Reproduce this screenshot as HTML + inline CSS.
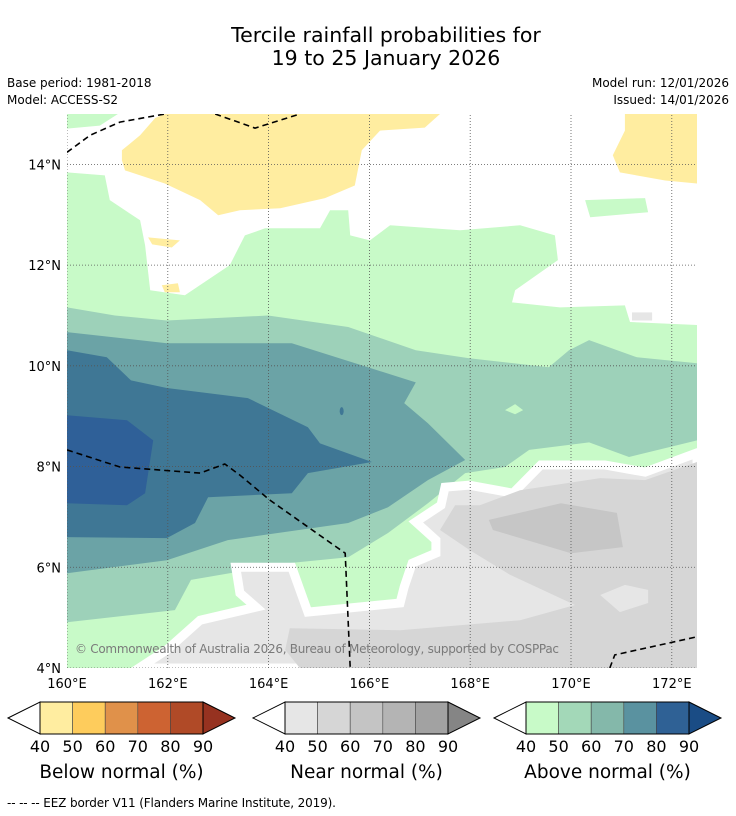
<!DOCTYPE html>
<html><head><meta charset="utf-8"><style>
body{margin:0;background:#fff;width:736px;height:816px;overflow:hidden;font-family:"DejaVu Sans","Liberation Sans",sans-serif}
svg{display:block}
</style></head><body>
<svg id="chart" width="736" height="816" viewBox="0 0 736 816" font-family="DejaVu Sans, Liberation Sans, sans-serif">
<text x="386" y="42" text-anchor="middle" font-size="20.5">Tercile rainfall probabilities for</text>
<text x="386" y="65" text-anchor="middle" font-size="20.5">19 to 25 January 2026</text>
<text x="7" y="87" font-size="12">Base period: 1981-2018</text>
<text x="7" y="104" font-size="12">Model: ACCESS-S2</text>
<text x="729" y="87" font-size="12" text-anchor="end">Model run: 12/01/2026</text>
<text x="729" y="104" font-size="12" text-anchor="end">Issued: 14/01/2026</text>
<defs><clipPath id="mapclip"><rect x="67" y="114" width="630" height="554"/></clipPath></defs>
<g id="map" clip-path="url(#mapclip)"></g>
<g id="axes"></g>
<g id="legend"></g>
<text x="7" y="807" font-size="12" textLength="329">--  --  -- EEZ border V11 (Flanders Marine Institute, 2019).</text>
</svg>
<script>
const lonTicks=[160,162,164,166,168,170,172];
const latTicks=[4,6,8,10,12,14];
const lonLabels=["160°E","162°E","164°E","166°E","168°E","170°E","172°E"];
const latLabels=["4°N","6°N","8°N","10°N","12°N","14°N"];
const whiteTop=[[160,14.71],[160.65,14.77],[161.01,15],[172.5,15],[172.5,10.81],[171.17,10.87],[171.07,11.2],[169.78,11.16],[168.83,11.26],[168.89,11.5],[169.74,12.1],[169.68,12.59],[168.99,12.79],[167.8,12.69],[166.41,12.79],[166.01,12.49],[165.62,12.59],[165.58,13.09],[165.22,13.09],[165.02,12.73],[163.93,12.73],[163.53,12.59],[163.23,12.0],[162.34,11.4],[161.65,11.5],[161.55,12.39],[161.45,12.89],[160.85,13.29],[160.75,13.78],[160,13.84]];
const greenPatch=[[170.28,13.29],[171.47,13.33],[171.53,13.05],[170.38,12.95]];
const grayPatchTop=[[171.21,11.06],[171.61,11.06],[171.61,10.9],[171.21,10.9]];
const yellowBig=[[161.09,14.28],[161.45,14.58],[161.75,14.92],[161.94,15],[167.4,15],[167.1,14.73],[166.21,14.67],[165.85,14.28],[165.71,13.58],[165.12,13.33],[164.23,13.13],[163.43,13.09],[163.0,12.99],[162.64,13.29],[161.94,13.62],[161.15,13.88],[161.09,14.08]];
const yellowRight=[[171.07,15],[172.5,15],[172.5,13.62],[171.87,13.68],[170.97,13.84],[170.83,14.18],[171.07,14.67]];
const yellowSmall1=[[161.61,12.55],[162.24,12.49],[162.08,12.35],[161.69,12.41]];
const yellowSmall2=[[161.88,11.6],[162.2,11.64],[162.24,11.46],[161.94,11.46]];
const grayOuter=[[172.5,8.27],[171.47,7.89],[170.67,8.03],[169.4,8.03],[168.85,7.47],[167.98,7.63],[167.5,7.59],[167.42,7.23],[166.92,6.9],[167.32,6.54],[167.32,6.28],[166.85,6.08],[166.69,5.61],[166.61,5.29],[164.78,5.11],[164.46,6.0],[163.35,6.0],[163.43,5.49],[163.75,5.21],[162.64,4.95],[161.98,4.36],[161.43,4.0],[172.5,4.0]];
const grayMid=[[172.5,8.09],[171.47,7.73],[170.58,7.77],[168.99,7.53],[168.19,7.23],[167.7,7.23],[167.4,6.74],[167.99,6.34],[168.79,5.85],[170.08,5.25],[168.99,4.95],[166.61,4.75],[164.42,4.79],[164.33,4.36],[164.62,4.0],[172.5,4.0]];
const grayLight=[[170.58,5.45],[171.07,5.65],[171.53,5.55],[171.53,5.29],[170.97,5.11]];
const grayDark=[[168.37,6.94],[169.8,7.27],[170.91,7.08],[171.03,6.4],[170.0,6.28],[168.45,6.74]];
const teal50=[[160,11.16],[160.95,11.0],[161.98,10.9],[163.99,11.0],[165.58,10.77],[166.92,10.31],[167.98,10.15],[169.56,9.97],[169.96,10.31],[170.36,10.51],[171.31,10.17],[172.5,10.05],[172.5,8.52],[171.15,8.19],[170.36,8.48],[169.17,8.33],[168.69,7.99],[167.9,7.87],[167.16,7.27],[166.37,6.68],[165.58,6.2],[164.38,6.08],[162.46,5.75],[162.14,5.15],[160,4.91]];
const greenDiamond=[[168.69,9.12],[168.89,9.24],[169.05,9.12],[168.89,9.04]];
const teal60=[[160,10.67],[161.98,10.45],[164.46,10.45],[165.97,9.97],[166.92,9.67],[166.69,9.26],[167.16,8.86],[167.9,8.13],[167.16,7.73],[166.37,7.19],[165.58,6.88],[163.19,6.54],[161.98,6.14],[160,5.88]];
const teal70=[[160,10.31],[160.79,10.17],[161.27,9.71],[161.98,9.56],[163.59,9.36],[164.78,8.78],[165.02,8.46],[166.05,8.09],[164.78,7.87],[164.46,7.47],[162.8,7.39],[162.54,6.88],[161.98,6.58],[160,6.6]];
const teal80=[[160,9.02],[161.19,8.92],[161.71,8.52],[161.55,7.47],[161.19,7.23],[160,7.27]];
const eezTop1=[[160,14.24],[160.46,14.58],[161.05,14.84],[161.94,15]];
const eezTop2=[[162.94,15],[163.73,14.72],[164.62,15]];
const eezMid=[[160,8.33],[161.05,7.99],[162.64,7.87],[163.13,8.05],[163.43,7.83],[164.03,7.33],[165.52,6.28],[165.62,4.0]];
const eezBR=[[170.77,4],[170.87,4.26],[172.5,4.62]];
const legendTicks=["40","50","60","70","80","90"];
const belowColors=["#ffeda0","#fecc5c","#e0914a","#cd6332","#b04a27","#963220"];
const nearColors=["#e6e6e6","#d6d6d6","#c4c4c4","#b4b4b4","#a2a2a2","#858585"];
const aboveColors=["#c8fac8","#a3d8b8","#84b8aa","#5a92a0","#2f6195","#1a4c85"];

const NS="http://www.w3.org/2000/svg";
const X0=67,X1=697,Y0=668,Y1=114,LON0=160,LON1=172.5,LAT0=4,LAT1=15;
const xs=lon=>X0+(lon-LON0)/(LON1-LON0)*(X1-X0);
const ys=lat=>Y0-(lat-LAT0)/(LAT1-LAT0)*(Y0-Y1);
function mk(tag,attrs,parent){const e=document.createElementNS(NS,tag);for(const k in attrs)e.setAttribute(k,attrs[k]);parent.appendChild(e);return e;}
const map=document.getElementById('map');
function poly(pts,fill,name,extra){
  const e=mk('polygon',Object.assign({points:pts.map(p=>xs(p[0]).toFixed(1)+','+ys(p[1]).toFixed(1)).join(' '),fill:fill},extra||{}),map);
  
  
  return e;
}
function line(pts,name){
  const e=mk('polyline',{points:pts.map(p=>xs(p[0]).toFixed(1)+','+ys(p[1]).toFixed(1)).join(' '),fill:'none',stroke:'#000','stroke-width':1.6,'stroke-dasharray':'6,4'},map);
  
  
}
const bg=mk('rect',{x:xs(LON0),y:ys(LAT1),width:xs(LON1)-xs(LON0),height:ys(LAT0)-ys(LAT1),fill:'#c8fac8'},map);


poly(whiteTop,'#ffffff','no-signal-region');
poly(greenPatch,'#c8fac8','above-normal-patch');
poly(grayPatchTop,'#e6e6e6','near-normal-patch');
poly(yellowBig,'#ffeda0','below-normal-region');
poly(yellowRight,'#ffeda0','below-normal-region-east');
poly(yellowSmall1,'#ffeda0','below-normal-small-1');
poly(yellowSmall2,'#ffeda0','below-normal-small-2');
poly(teal50,'#9dd1b9','above-normal-50-60-region');
poly(greenDiamond,'#c8fac8','above-normal-40-50-island');
poly(teal60,'#6ba3a6','above-normal-60-70-region');
poly(teal70,'#3f7795','above-normal-70-80-region');
poly(teal80,'#2f6098','above-normal-80-90-region');
poly(grayOuter,'#e6e6e6','near-normal-40-50-region',{stroke:'#fff','stroke-width':9,'stroke-linejoin':'miter'});
poly(grayMid,'#d6d6d6','near-normal-50-60-region');
poly(grayLight,'#e6e6e6','near-normal-light-patch');
poly(grayDark,'#c6c6c6','near-normal-60-70-region');
const blob=mk('ellipse',{cx:xs(165.45),cy:ys(9.1),rx:2,ry:4,fill:'#3f7795'},map);


lonTicks.forEach(l=>{const g=mk('line',{x1:xs(l),x2:xs(l),y1:ys(LAT0),y2:ys(LAT1),stroke:'#555','stroke-width':0.8,'stroke-dasharray':'1,2'},map);

});
latTicks.forEach(l=>{const g=mk('line',{x1:xs(LON0),x2:xs(LON1),y1:ys(l),y2:ys(l),stroke:'#555','stroke-width':0.8,'stroke-dasharray':'1,2'},map);

});
line(eezTop1,'eez-border-top-1');
line(eezTop2,'eez-border-top-2');
line(eezMid,'eez-border-middle');
line(eezBR,'eez-border-southeast');
const cp=mk('text',{x:75,y:653,'font-size':12,fill:'#7a7a7a',textLength:484},map);
cp.textContent='© Commonwealth of Australia 2026, Bureau of Meteorology, supported by COSPPac';


const axes=document.getElementById('axes');
lonTicks.forEach((l,i)=>{const t=mk('text',{x:xs(l),y:688,'font-size':13,'text-anchor':'middle'},axes);t.textContent=lonLabels[i];

});
latTicks.forEach((l,i)=>{const t=mk('text',{x:61,y:ys(l)+5,'font-size':13,'text-anchor':'end'},axes);t.textContent=latLabels[i];

});
const leg=document.getElementById('legend');
function colorbar(x0,colors,title,name){
  const g=mk('g',{},leg);
  
  
  const top=702,h=32,w=32.6,tri=32;
  const bx=x0+tri;
  const lt=mk('polygon',{points:`${x0},${top+h/2} ${bx},${top} ${bx},${top+h}`,fill:'#fff',stroke:'#000','stroke-width':1},g);
  
  
  for(let i=0;i<5;i++){const r=mk('rect',{x:bx+i*w,y:top,width:w,height:h,fill:colors[i],stroke:'#444','stroke-width':0.6},g);
    
    }
  const ex=bx+5*w;
  const rt=mk('polygon',{points:`${ex},${top} ${ex+tri},${top+h/2} ${ex},${top+h}`,fill:colors[5],stroke:'#000','stroke-width':1},g);
  
  
  mk('rect',{x:bx,y:top,width:5*w,height:h,fill:'none',stroke:'#000','stroke-width':1},g);
  legendTicks.forEach((t,i)=>{const e=mk('text',{x:bx+i*w,y:752,'font-size':16,'text-anchor':'middle'},g);e.textContent=t;
    
    });
  const tt=mk('text',{x:bx+2.5*w,y:778,'font-size':18.5,'text-anchor':'middle'},g);tt.textContent=title;
  
  
}
colorbar(8,belowColors,'Below normal (%)','below-normal-colorbar');
colorbar(253,nearColors,'Near normal (%)','near-normal-colorbar');
colorbar(494,aboveColors,'Above normal (%)','above-normal-colorbar');
</script>
</body></html>
